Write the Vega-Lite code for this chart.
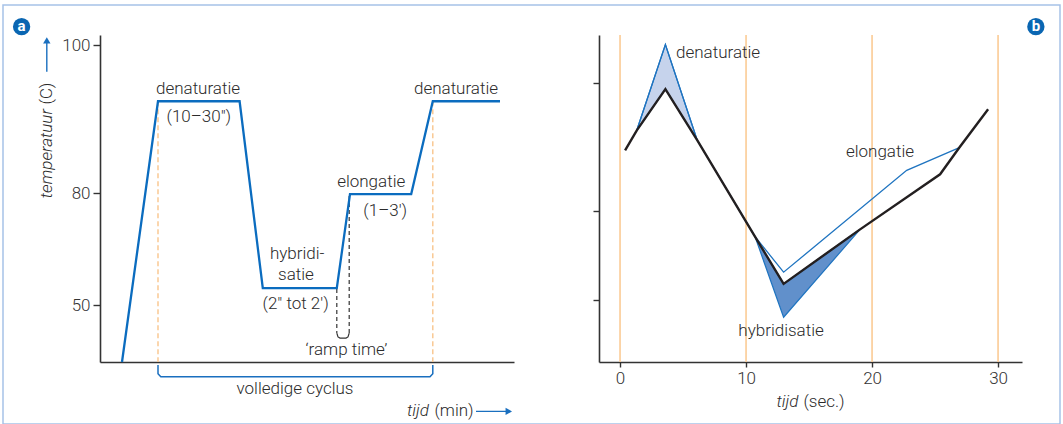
{
  "$schema": "https://vega.github.io/schema/vega-lite/v6.json",
  "width": 1057,
  "height": 419,
  "padding": {"left": 3, "top": 5, "right": 3, "bottom": 0},
  "autosize": {"type": "none"},
  "config": {
    "view": {"stroke": "#a6c2e8", "strokeWidth": 1.5},
    "axis": {"grid": false, "domainColor": "#333333", "tickColor": "#333333", "domainWidth": 1.6, "tickWidth": 1.4, "labelColor": "#333333", "labelFont": "Roboto", "labelFontWeight": 300, "labelFontSize": 17, "title": null},
    "text": {"font": "Roboto", "fontSize": 17, "fontWeight": 300, "color": "#2b2b2b"}
  },
  "datasets": {
    "pcr": [
      {"t": 0.55, "T": 35}, {"t": 1.45, "T": 92.4}, {"t": 3.49, "T": 92.4}, {"t": 4.07, "T": 54.5},
      {"t": 5.92, "T": 54.5}, {"t": 6.25, "T": 79.7}, {"t": 7.78, "T": 79.7}, {"t": 8.32, "T": 92.4}, {"t": 10.0, "T": 92.4}
    ],
    "orangeA": [{"t": 1.45, "T": 92.4, "T2": 35}, {"t": 8.32, "T": 92.4, "T2": 35}],
    "rampDash": [{"t": 5.92, "T": 54.3, "T2": 42.6}, {"t": 6.23, "T": 79.2, "T2": 42.6}],
    "rampU": [
      {"i": 0, "t": 5.92, "T": 42.6}, {"i": 1, "t": 5.95, "T": 41.6}, {"i": 2, "t": 6.0, "T": 41.3},
      {"i": 3, "t": 6.15, "T": 41.3}, {"i": 4, "t": 6.2, "T": 41.6}, {"i": 5, "t": 6.23, "T": 42.6}
    ],
    "bracket": [
      {"i": 0, "t": 1.45, "T": 34.2}, {"i": 1, "t": 1.45, "T": 31.9}, {"i": 2, "t": 1.52, "T": 31.1},
      {"i": 3, "t": 8.25, "T": 31.1}, {"i": 4, "t": 8.32, "T": 31.9}, {"i": 5, "t": 8.32, "T": 34.2}
    ],
    "labelsA": [
      {"t": 2.45, "T": 94.05, "label": "denaturatie"},
      {"t": 2.47, "T": 90.23, "label": "(10–30\")"},
      {"t": 4.93, "T": 63.73, "label": "hybridi-"},
      {"t": 4.9, "T": 58.1, "label": "satie"},
      {"t": 4.89, "T": 50.2, "label": "(2\" tot 2')"},
      {"t": 6.16, "T": 38.2, "label": "‘ramp time’"},
      {"t": 6.78, "T": 81.53, "label": "elongatie"},
      {"t": 7.13, "T": 75.17, "label": "(1–3')"},
      {"t": 8.9, "T": 94.05, "label": "denaturatie"},
      {"t": 4.875, "T": 27.8, "label": "volledige cyclus"}
    ],
    "titleAItalic": [{"t": 8.225, "T": 22.0, "label": "tijd"}],
    "titleANormal": [{"t": 8.36, "T": 22.0, "label": "(min)"}],
    "arrowX": [{"t": 9.4, "t2": 10.22, "T": 22.0}],
    "arrowXHead": [{"t": 10.22, "T": 22.0}],
    "ytitleItalic": [{"t": -1.33, "T": 91.35, "label": "temperatuur"}],
    "ytitleNormal": [{"t": -1.33, "T": 91.96, "label": "(C)"}],
    "arrowY": [{"t": -1.33, "T": 96.4, "T2": 100.3}],
    "arrowYHead": [{"t": -1.33, "T": 100.62}],
    "badgeA": [{"t": -1.96, "T": 102.47, "label": "a"}],
    "black": [
      {"t": 0.4, "T": 81.9}, {"t": 1.33, "T": 85.5}, {"t": 3.6, "T": 92.9}, {"t": 6.11, "T": 83.8},
      {"t": 10.71, "T": 66.4}, {"t": 12.98, "T": 57.9}, {"t": 19.05, "T": 67.7}, {"t": 25.4, "T": 77.6},
      {"t": 26.93, "T": 82.4}, {"t": 29.21, "T": 89.3}
    ],
    "blue": [
      {"t": 1.33, "T": 85.5}, {"t": 3.6, "T": 100.9}, {"t": 6.11, "T": 83.8}, {"t": 10.71, "T": 66.4},
      {"t": 12.98, "T": 60.0}, {"t": 22.75, "T": 78.3}, {"t": 26.93, "T": 82.4}
    ],
    "areaLight": [{"t": 1.33, "T": 85.5, "T2": 85.5}, {"t": 3.6, "T": 100.9, "T2": 92.9}, {"t": 6.11, "T": 83.8, "T2": 83.8}],
    "areaDark": [{"t": 10.71, "T": 66.4, "T2": 66.4}, {"t": 12.98, "T": 57.9, "T2": 51.9}, {"t": 19.05, "T": 67.7, "T2": 67.7}],
    "orangeB": [{"t": 0, "T": 102.63, "T2": 43.86}, {"t": 10, "T": 102.63, "T2": 43.86}, {"t": 20, "T": 102.63, "T2": 43.86}, {"t": 30, "T": 102.63, "T2": 43.86}],
    "labelsBLeft": [{"t": 4.44, "T": 99.39, "label": "denaturatie"}],
    "labelsBCenter": [{"t": 20.63, "T": 81.6, "label": "elongatie"}, {"t": 12.78, "T": 49.43, "label": "hybridisatie"}],
    "titleBItalic": [{"t": 14.15, "T": 36.67, "label": "tijd"}],
    "titleBNormal": [{"t": 14.55, "T": 36.67, "label": "(sec.)"}],
    "badgeB": [{"t": 33.0, "T": 104.12, "label": "b"}]
  },
  "layer": [
    {
      "encoding": {
        "x": {"field": "t", "type": "quantitative", "scale": {"domain": [0, 10.35], "range": [97, 511], "nice": false, "zero": false},
              "axis": {"orient": "bottom", "offset": -62, "labels": false, "ticks": false, "title": null}},
        "y": {"field": "T", "type": "quantitative", "scale": {"domain": [35, 50, 80, 100, 101.35], "range": [357, 300, 188, 40, 30], "nice": false, "zero": false},
              "axis": {"orient": "left", "offset": -97, "values": [50, 80, 100], "tickSize": 7, "labelPadding": 3, "title": null}}
      },
      "layer": [
        {"data": {"name": "orangeA"}, "mark": {"type": "rule", "color": "#f9c58c", "strokeWidth": 1.4, "strokeDash": [5, 3]}, "encoding": {"y2": {"field": "T2"}}},
        {"data": {"name": "rampDash"}, "mark": {"type": "rule", "color": "#333333", "strokeWidth": 1.2, "strokeDash": [4, 3]}, "encoding": {"y2": {"field": "T2"}}},
        {"data": {"name": "rampU"}, "mark": {"type": "line", "color": "#333333", "strokeWidth": 1.2}, "encoding": {"order": {"field": "i"}}},
        {"data": {"name": "bracket"}, "mark": {"type": "line", "color": "#1a6fbf", "strokeWidth": 1.5, "strokeJoin": "round"}, "encoding": {"order": {"field": "i"}}},
        {"data": {"name": "pcr"}, "mark": {"type": "line", "color": "#0b6cbf", "strokeWidth": 2.3}, "encoding": {}},
        {"data": {"name": "labelsA"}, "mark": {"type": "text", "align": "center", "baseline": "middle"}, "encoding": {"text": {"field": "label"}}},
        {"data": {"name": "titleAItalic"}, "mark": {"type": "text", "align": "right", "baseline": "middle", "fontStyle": "italic"}, "encoding": {"text": {"field": "label"}}},
        {"data": {"name": "titleANormal"}, "mark": {"type": "text", "align": "left", "baseline": "middle"}, "encoding": {"text": {"field": "label"}}},
        {"data": {"name": "arrowX"}, "mark": {"type": "rule", "color": "#1a6fbf", "strokeWidth": 1.4}, "encoding": {"x2": {"field": "t2"}}},
        {"data": {"name": "arrowXHead"}, "mark": {"type": "point", "shape": "triangle-right", "filled": true, "size": 55, "color": "#1a6fbf", "opacity": 1}, "encoding": {}},
        {"data": {"name": "ytitleItalic"}, "mark": {"type": "text", "align": "right", "baseline": "middle", "angle": 270, "fontStyle": "italic"}, "encoding": {"text": {"field": "label"}}},
        {"data": {"name": "ytitleNormal"}, "mark": {"type": "text", "align": "left", "baseline": "middle", "angle": 270}, "encoding": {"text": {"field": "label"}}},
        {"data": {"name": "arrowY"}, "mark": {"type": "rule", "color": "#1a6fbf", "strokeWidth": 1.4}, "encoding": {"y2": {"field": "T2"}}},
        {"data": {"name": "arrowYHead"}, "mark": {"type": "point", "shape": "triangle-up", "filled": true, "size": 55, "color": "#1a6fbf", "opacity": 1}, "encoding": {}},
        {"data": {"name": "badgeA"}, "mark": {"type": "point", "shape": "circle", "filled": true, "size": 300, "color": "#0a66b2", "opacity": 1}, "encoding": {}},
        {"data": {"name": "badgeA"}, "mark": {"type": "text", "align": "center", "baseline": "middle", "color": "white", "fontWeight": "bold", "fontSize": 15, "dy": -1}, "encoding": {"text": {"field": "label"}}}
      ]
    },
    {
      "encoding": {
        "x": {"field": "t", "type": "quantitative", "scale": {"domain": [-1.67, 31.9], "range": [596, 1019], "nice": false, "zero": false},
              "axis": {"orient": "bottom", "offset": -62, "values": [0, 10, 20, 30], "tickSize": 5, "labelPadding": 3, "title": null}},
        "y": {"field": "T", "type": "quantitative", "scale": {"domain": [43.86, 102.63], "range": [357, 30], "nice": false, "zero": false},
              "axis": {"orient": "left", "offset": -596, "values": [55, 71, 94], "labels": false, "tickSize": 6, "title": null}}
      },
      "layer": [
        {"data": {"name": "orangeB"}, "mark": {"type": "rule", "color": "#fbcb95", "strokeWidth": 1.6}, "encoding": {"y2": {"field": "T2"}}},
        {"data": {"name": "areaLight"}, "mark": {"type": "area", "color": "#c6d3ec", "opacity": 1, "stroke": "#1f74c0", "strokeWidth": 1.2}, "encoding": {"y2": {"field": "T2"}}},
        {"data": {"name": "areaDark"}, "mark": {"type": "area", "color": "#6190cb", "opacity": 1, "stroke": "#1f74c0", "strokeWidth": 1.2}, "encoding": {"y2": {"field": "T2"}}},
        {"data": {"name": "blue"}, "mark": {"type": "line", "color": "#1f74c0", "strokeWidth": 1.3}, "encoding": {}},
        {"data": {"name": "black"}, "mark": {"type": "line", "color": "#231f20", "strokeWidth": 2.4}, "encoding": {}},
        {"data": {"name": "labelsBLeft"}, "mark": {"type": "text", "align": "left", "baseline": "middle"}, "encoding": {"text": {"field": "label"}}},
        {"data": {"name": "labelsBCenter"}, "mark": {"type": "text", "align": "center", "baseline": "middle"}, "encoding": {"text": {"field": "label"}}},
        {"data": {"name": "titleBItalic"}, "mark": {"type": "text", "align": "right", "baseline": "middle", "fontStyle": "italic"}, "encoding": {"text": {"field": "label"}}},
        {"data": {"name": "titleBNormal"}, "mark": {"type": "text", "align": "left", "baseline": "middle"}, "encoding": {"text": {"field": "label"}}},
        {"data": {"name": "badgeB"}, "mark": {"type": "point", "shape": "circle", "filled": true, "size": 300, "color": "#0a66b2", "opacity": 1}, "encoding": {}},
        {"data": {"name": "badgeB"}, "mark": {"type": "text", "align": "center", "baseline": "middle", "color": "white", "fontWeight": "bold", "fontSize": 15, "dy": -1}, "encoding": {"text": {"field": "label"}}}
      ]
    }
  ],
  "resolve": {"scale": {"x": "independent", "y": "independent"}, "axis": {"x": "independent", "y": "independent"}}
}
